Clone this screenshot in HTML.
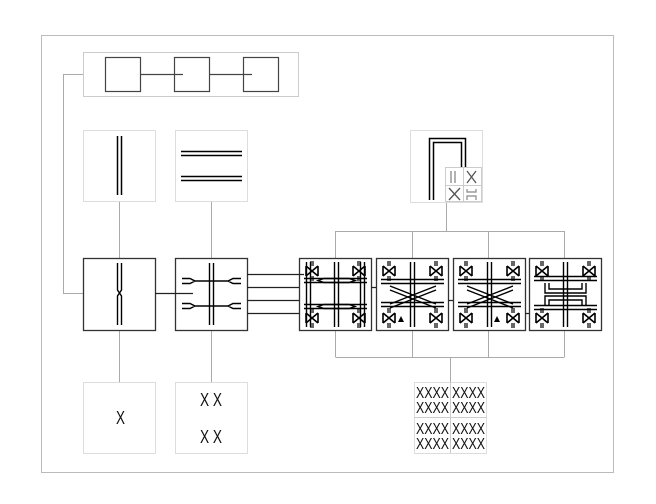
<!DOCTYPE html>
<html><head><meta charset="utf-8"><style>
html,body{margin:0;padding:0;background:#fff;width:656px;height:504px;overflow:hidden}
svg{display:block}
text{font-family:"Liberation Sans",sans-serif;fill:#111}
</style></head><body>
<svg width="656" height="504" viewBox="0 0 656 504" xmlns="http://www.w3.org/2000/svg">
<defs>
<g id="bt">
<path d="M-6,-5 L6,5 M-6,5 L6,-5 M-6,-5 V5 M6,-5 V5" stroke="#000" stroke-width="1.6" fill="none"/>
<path d="M-1,-10 V-5 M1,-10 V-5 M-1,5 V10 M1,5 V10" stroke="#000" stroke-width="1.2"/>
</g>
</defs>
<rect x="41.5" y="35.5" width="572" height="437" fill="none" stroke="#bbb"/>
<rect x="83.5" y="52.5" width="215" height="44" fill="none" stroke="#ccc"/>
<g fill="none" stroke="#444" stroke-width="1.2">
<rect x="105.5" y="57.5" width="35" height="34"/>
<rect x="174.5" y="57.5" width="35" height="34"/>
<rect x="243.5" y="57.5" width="35" height="34"/>
<path d="M140,74.5H183 M209,74.5H252"/>
</g>
<path d="M83,74.5H63.5V293.5H83" fill="none" stroke="#aaa"/>
<g stroke="#aaa" fill="none">
<path d="M119.5,201V258 M119.5,330V382 M211.5,201V258 M211.5,330V382"/>
<path d="M335.5,231.5H564.5 M335.5,231V258 M412.5,231V258 M488.5,231V258 M564.5,231V258 M446.5,202V231"/>
<path d="M335.5,357.5H564.5 M335.5,331V357 M412.5,331V357 M488.5,331V357 M564.5,331V357 M450.5,357V382"/>
</g>
<g fill="none" stroke="#ddd">
<rect x="83.5" y="130.5" width="72" height="71"/>
<rect x="175.5" y="130.5" width="72" height="71"/>
<rect x="410.5" y="130.5" width="72" height="72"/>
<rect x="83.5" y="382.5" width="72" height="71"/>
<rect x="175.5" y="382.5" width="72" height="71"/>
<rect x="414.5" y="382.5" width="72" height="71"/>
</g>
<g stroke="#000" stroke-width="1.5" fill="none">
<path d="M117.5,136V195 M121.5,136V195"/>
<path d="M181,151.5H242 M181,155.5H242 M181,176.5H242 M181,180.5H242"/>
<path d="M429.5,200V138.5H465.5V168 M433.5,200V142.5H461.5V168"/>
</g>
<g>
<rect x="445.5" y="167.5" width="36" height="34" fill="#fff" stroke="#ccc"/>
<path d="M463.5,167V202 M445,185.5H482" stroke="#ccc"/>
<path d="M451,171V183 M455,171V183" stroke="#888" stroke-width="1.3"/>
<path d="M467,171L476,183 M476,171L467,183" stroke="#555" stroke-width="1.3"/>
<path d="M449,188L460,200 M460,188L449,200" stroke="#555" stroke-width="1.3"/>
<path d="M467,189V192H476V189 M467,200V196H476V200" stroke="#888" stroke-width="1.2" fill="none"/>
</g>
<g fill="none" stroke="#333" stroke-width="1.3">
<rect x="83.5" y="258.5" width="72" height="72"/>
<rect x="175.5" y="258.5" width="72" height="72"/>
<rect x="299.5" y="258.5" width="72" height="72"/>
<rect x="376.5" y="258.5" width="72" height="72"/>
<rect x="453.5" y="258.5" width="72" height="72"/>
<rect x="529.5" y="258.5" width="72" height="72"/>
</g>
<g stroke="#222" stroke-width="1.2" fill="none">
<path d="M155,293.5H193"/>
<path d="M247,274.5H304 M247,287.5H299 M247,300.5H299 M247,313.5H299"/>
<path d="M371,287.5H376 M448,300.5H453 M525,313.5H529"/>
</g>
<g stroke="#000" stroke-width="1.4" fill="none">
<path d="M117.5,263V290L119.5,293L117.5,296V325 M121.5,263V290L119.5,293L121.5,296V325"/>
<path d="M209.5,263V325 M213.5,263V325"/>
<path d="M182,278.5H190L195,281H228L233,278.5H241 M182,283.5H190L195,281 M228,281L233,283.5H241"/>
<path d="M182,303.5H190L195,306H228L233,303.5H241 M182,308.5H190L195,306 M228,306L233,308.5H241"/>
</g>
<g stroke="#000" stroke-width="1.4" fill="none">
<path d="M306.5,262V327 M310.5,262V327 M334.5,262V327 M338.5,262V327 M360.5,262V327 M364.5,262V327"/>
<path d="M304,278.5H367 M304,282.5H367 M304,304.5H367 M304,308.5H367"/>
<path d="M318,280.5L324,278.5H349L355,280.5L349,282.5H324Z M318,306.5L324,304.5H349L355,306.5L349,308.5H324Z"/>
</g>
<use href="#bt" x="312" y="271"/><use href="#bt" x="359" y="271"/>
<use href="#bt" x="312" y="318"/><use href="#bt" x="359" y="318"/>
<g stroke="#000" stroke-width="1.4" fill="none">
<path d="M410.5,262V327 M414.5,262V327"/>
<path d="M381,279.5H444 M381,283.5H444 M381,302.5H444 M381,306.5H444"/>
<path d="M390,286L436,304 M390,290L436,308 M436,286L390,304 M436,290L390,308"/>
</g>
<use href="#bt" x="389" y="271"/><use href="#bt" x="436" y="271"/>
<use href="#bt" x="389" y="318"/><use href="#bt" x="436" y="318"/>
<path d="M398,322L401,316L404,322Z" fill="#000"/>
<g stroke="#000" stroke-width="1.4" fill="none">
<path d="M487.5,262V327 M491.5,262V327"/>
<path d="M458,279.5H521 M458,283.5H521 M458,302.5H521 M458,306.5H521"/>
<path d="M467,286L513,304 M467,290L513,308 M513,286L467,304 M513,290L467,308"/>
</g>
<use href="#bt" x="466" y="271"/><use href="#bt" x="513" y="271"/>
<use href="#bt" x="466" y="318"/><use href="#bt" x="513" y="318"/>
<path d="M494,322L497,316L500,322Z" fill="#000"/>
<g stroke="#000" stroke-width="1.4" fill="none">
<path d="M563.5,262V327 M567.5,262V327"/>
<path d="M534,276.5H597 M534,280.5H597 M534,305.5H597 M534,309.5H597"/>
<path d="M545,283V293H586V283 M549,283V289H582V283 M545,306V296H586V306 M549,306V300H582V306"/>
</g>
<use href="#bt" x="542" y="271"/><use href="#bt" x="589" y="271"/>
<use href="#bt" x="542" y="318"/><use href="#bt" x="589" y="318"/>
<text x="116" y="424" font-size="18" textLength="9" lengthAdjust="spacingAndGlyphs">X</text>
<text x="200" y="406" font-size="18" textLength="22" lengthAdjust="spacingAndGlyphs">X X</text>
<text x="200" y="443" font-size="18" textLength="22" lengthAdjust="spacingAndGlyphs">X X</text>
<path d="M450.5,382V453 M414,417.5H486" stroke="#ccc"/>
<g font-size="16">
<text x="416" y="398" textLength="33" lengthAdjust="spacingAndGlyphs">XXXX</text><text x="452" y="398" textLength="33" lengthAdjust="spacingAndGlyphs">XXXX</text>
<text x="416" y="413" textLength="33" lengthAdjust="spacingAndGlyphs">XXXX</text><text x="452" y="413" textLength="33" lengthAdjust="spacingAndGlyphs">XXXX</text>
<text x="416" y="434" textLength="33" lengthAdjust="spacingAndGlyphs">XXXX</text><text x="452" y="434" textLength="33" lengthAdjust="spacingAndGlyphs">XXXX</text>
<text x="416" y="449" textLength="33" lengthAdjust="spacingAndGlyphs">XXXX</text><text x="452" y="449" textLength="33" lengthAdjust="spacingAndGlyphs">XXXX</text>
</g>
</svg>
</body></html>
